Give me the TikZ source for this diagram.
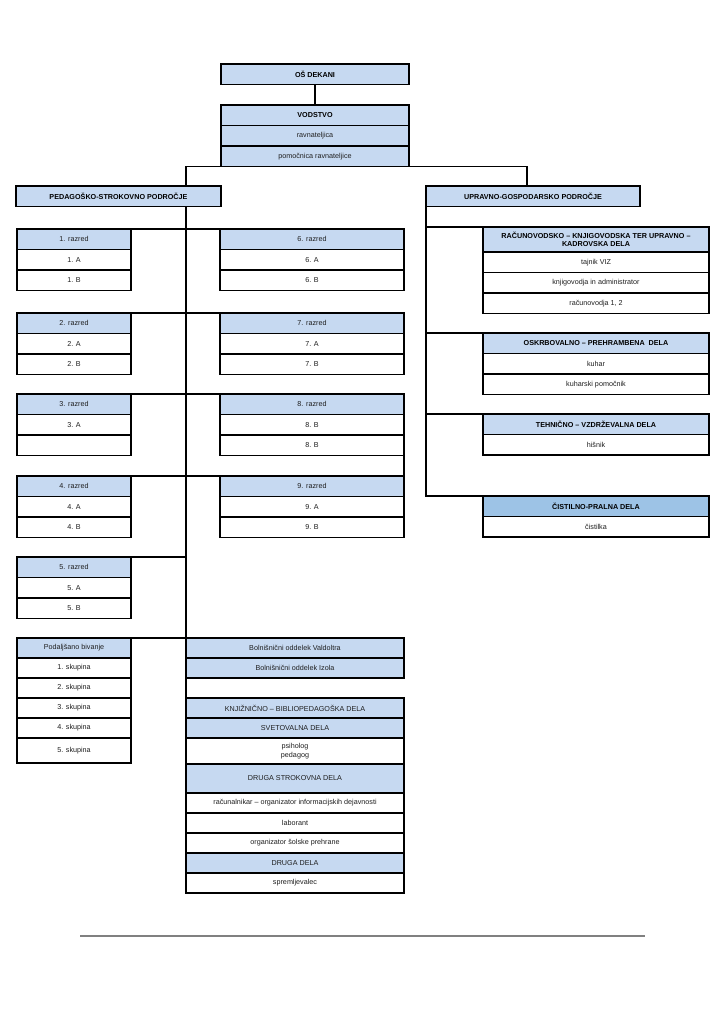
\documentclass[tikz,border=0pt]{standalone}
\usepackage{fontspec}
\setmainfont{Liberation Sans}
\usepackage{tikz}
\usetikzlibrary{positioning}
\definecolor{hdblue}{HTML}{C6D9F1}
\definecolor{cstblue}{HTML}{9DC3E6}

\begin{document}
\begin{tikzpicture}[
            x=1pt, y=-1pt,
            box/.style={draw, line width=1.3pt, inner sep=0pt, outer sep=0pt, align=center, minimum height=20.5, font=\fontsize{7.2}{8.6}\selectfont, text=black!88},
            head/.style={box, fill=hdblue},
            boldhead/.style={head, text=black, font=\fontsize{7.2}{8.6}\selectfont\bfseries},
            entry/.style={box, fill=white},
            lcol/.style={minimum width=114},
            mcol/.style={minimum width=184},
            bcol/.style={minimum width=218},
            rcol/.style={minimum width=226},
            link/.style={line width=1.2pt},
            node distance=0pt
        ]
        \useasboundingbox (0,0) rectangle (724,1024);

        \coordinate (spine) at (186,0);
        \coordinate (uprx) at (527,0);

        % Management
        \node[boldhead, minimum width=188, anchor=north west] (dekani) at (221,64) {OŠ DEKANI};
        \node[boldhead, minimum width=188, anchor=north west] (vodstvo) at (221,105) {VODSTVO};
        \node[head, minimum width=188, below=of vodstvo] (ravn) {ravnateljica};
        \node[head, minimum width=188, below=of ravn] (pomoc) {pomočnica ravnateljice};

        \node[boldhead, minimum width=205, anchor=north west] (ped) at (16,186) {PEDAGOŠKO-STROKOVNO PODROČJE};
        \node[boldhead, minimum width=214, anchor=north west] (upr) at (426,186) {UPRAVNO-GOSPODARSKO PODROČJE};

        % Grades 1 to 5
        \node[head, lcol, anchor=north west] (r1) at (17,229) {1. razred};
        \node[entry, lcol, below=of r1] (r1a) {1. A};
        \node[entry, lcol, below=of r1a] (r1b) {1. B};

        \node[head, lcol, anchor=north west] (r2) at (17,313) {2. razred};
        \node[entry, lcol, below=of r2] (r2a) {2. A};
        \node[entry, lcol, below=of r2a] (r2b) {2. B};

        \node[head, lcol, anchor=north west] (r3) at (17,394) {3. razred};
        \node[entry, lcol, below=of r3] (r3a) {3. A};
        \node[entry, lcol, below=of r3a] (r3b) {};

        \node[head, lcol, anchor=north west] (r4) at (17,476) {4. razred};
        \node[entry, lcol, below=of r4] (r4a) {4. A};
        \node[entry, lcol, below=of r4a] (r4b) {4. B};

        \node[head, lcol, anchor=north west] (r5) at (17,557) {5. razred};
        \node[entry, lcol, below=of r5] (r5a) {5. A};
        \node[entry, lcol, below=of r5a] (r5b) {5. B};

        % Grades 6 to 9
        \node[head, mcol, anchor=north west] (r6) at (220,229) {6. razred};
        \node[entry, mcol, below=of r6] (r6a) {6. A};
        \node[entry, mcol, below=of r6a] (r6b) {6. B};

        \node[head, mcol, anchor=north west] (r7) at (220,313) {7. razred};
        \node[entry, mcol, below=of r7] (r7a) {7. A};
        \node[entry, mcol, below=of r7a] (r7b) {7. B};

        \node[head, mcol, anchor=north west] (r8) at (220,394) {8. razred};
        \node[entry, mcol, below=of r8] (r8a) {8. B};
        \node[entry, mcol, below=of r8a] (r8b) {8. B};

        \node[head, mcol, anchor=north west] (r9) at (220,476) {9. razred};
        \node[entry, mcol, below=of r9] (r9a) {9. A};
        \node[entry, mcol, below=of r9a] (r9b) {9. B};

        % Extended stay
        \node[head, lcol, minimum height=20, anchor=north west] (pb) at (17,638) {Podaljšano bivanje};
        \node[entry, lcol, minimum height=20, below=of pb] (s1) {1. skupina};
        \node[entry, lcol, minimum height=20, below=of s1] (s2) {2. skupina};
        \node[entry, lcol, minimum height=20, below=of s2] (s3) {3. skupina};
        \node[entry, lcol, minimum height=20, below=of s3] (s4) {4. skupina};
        \node[entry, lcol, minimum height=25, below=of s4] (s5) {5. skupina};

        % Hospital units and other staff
        \node[head, bcol, minimum height=19.5, anchor=north west] (valdoltra) at (186,638) {Bolnišnični oddelek Valdoltra};
        \node[head, bcol, minimum height=19.5, below=1pt of valdoltra] (izola) {Bolnišnični oddelek Izola};

        \node[head, bcol, minimum height=20, anchor=north west] (knjiz) at (186,698) {KNJIŽNIČNO – BIBLIOPEDAGOŠKA DELA};
        \node[head, bcol, minimum height=20, below=of knjiz] (svet) {SVETOVALNA DELA};
        \node[entry, bcol, minimum height=26, below=of svet] (psih) {psiholog\\pedagog};
        \node[head, bcol, minimum height=29, below=of psih] (drstrok) {DRUGA STROKOVNA DELA};
        \node[entry, bcol, minimum height=20, below=of drstrok] (racun) {računalnikar – organizator informacijskih dejavnosti};
        \node[entry, bcol, minimum height=20, below=of racun] (lab) {laborant};
        \node[entry, bcol, minimum height=20, below=of lab] (orgpreh) {organizator šolske prehrane};
        \node[head, bcol, minimum height=20, below=of orgpreh] (drdela) {DRUGA DELA};
        \node[entry, bcol, minimum height=20, below=of drdela] (sprem) {spremljevalec};

        % Administrative area
        \node[boldhead, rcol, minimum height=25, anchor=north west] (rac) at (483,227) {RAČUNOVODSKO – KNJIGOVODSKA TER UPRAVNO –\\KADROVSKA DELA};
        \node[entry, rcol, below=of rac] (tajnik) {tajnik VIZ};
        \node[entry, rcol, below=of tajnik] (knjig) {knjigovodja in administrator};
        \node[entry, rcol, below=of knjig] (racvod) {računovodja 1, 2};

        \node[boldhead, rcol, anchor=north west] (oskrb) at (483,333) {OSKRBOVALNO – PREHRAMBENA~ DELA};
        \node[entry, rcol, below=of oskrb] (kuhar) {kuhar};
        \node[entry, rcol, below=of kuhar] (kuhpom) {kuharski pomočnik};

        \node[boldhead, rcol, anchor=north west] (tehn) at (483,414) {TEHNIČNO – VZDRŽEVALNA DELA};
        \node[entry, rcol, below=of tehn] (hisnik) {hišnik};

        \node[boldhead, rcol, fill=cstblue, anchor=north west] (cist) at (483,496) {ČISTILNO-PRALNA DELA};
        \node[entry, rcol, below=of cist] (cistilka) {čistilka};

        % Main links
        \draw[link] (dekani) -- (vodstvo);
        \draw[link] (pomoc.south west) -| (ped.north -| spine);
        \draw[link] (pomoc.south east) -| (upr.north -| uprx);
        \draw[link] (ped.south -| spine) -- (sprem.south west);

        % Grade links
        \draw[link] (r1.north east) -- (r6.north west);
        \draw[link] (r2.north east) -- (r7.north west);
        \draw[link] (r3.north east) -- (r8.north west);
        \draw[link] (r4.north east) -- (r9.north west);
        \draw[link] (r8b.south east) -- (r9.north east);
        \draw[link] (r5.north east) -- (r5.north east -| spine);
        \draw[link] (pb.north east) -- (valdoltra.north west);

        % Administrative links
        \draw[link] (upr.south west) |- (cist.north west);
        \draw[link] (upr.south west |- rac.north) -- (rac.north west);
        \draw[link] (upr.south west |- oskrb.north) -- (oskrb.north west);
        \draw[link] (upr.south west |- tehn.north) -- (tehn.north west);

        % Footer rule
        \coordinate (footl) at (80,936);
        \coordinate (footr) at (645,936);
        \draw[gray, line width=1.5pt] (footl) -- (footr);

    \end{tikzpicture}
\end{document}
